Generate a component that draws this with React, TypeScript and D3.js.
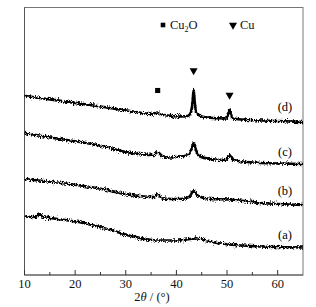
import * as d3 from 'd3';

// 2θ (deg) vs intensity (a.u.)
const curveA: [number, number][] = [
  [10, 58.5], [12.2, 58], [12.9, 61.5], [13.6, 58], [15, 57], [21.6, 52], [27, 45],
  [31.5, 38.5], [36.2, 34.5], [40.1, 34.5], [44, 36.5], [48, 32], [54.6, 29], [65, 27.5],
];
const curveB: [number, number][] = [
  [10, 96], [15.7, 93], [24.3, 87], [31, 80], [35.5, 78], [36.3, 81], [37.2, 76.5],
  [40.8, 76], [42.5, 78], [43.4, 84], [44.3, 79], [46.7, 76], [50.5, 75.5], [56.6, 72], [65, 70],
];
const curveC: [number, number][] = [
  [10, 142], [15.7, 137], [24.3, 130], [31, 122], [35.5, 120], [36.3, 123], [37.2, 119],
  [38.8, 117.5], [40.8, 118.5], [42.3, 120], [43.0, 126], [43.4, 132], [43.8, 126], [44.5, 119],
  [46.7, 116], [49.8, 115], [50.5, 120], [51.2, 115], [56.6, 112], [65, 111],
];
const curveD: [number, number][] = [
  [10, 179], [13, 177], [18, 173.5], [25, 168.5], [31.5, 163.5], [35, 161], [36.3, 162.5],
  [37.5, 160], [40.8, 158.5], [42.2, 159], [42.9, 163], [43.2, 174], [43.4, 185], [43.6, 174],
  [43.9, 163], [45, 158.5], [46, 157.5], [49.9, 156.5], [50.5, 165], [51.1, 156.5],
  [54.6, 155], [60, 154], [65, 153],
];
const series = [curveA, curveB, curveC, curveD];
const seriesLabels = ['(a)', '(b)', '(c)', '(d)'];
const labelY = [40, 84, 123, 168];

// phase markers
const cu2oPeaks: [number, number][] = [[36.3, 184.5]];
const cuPeaks: [number, number][] = [[43.4, 204.5], [50.5, 180]];

const xTicks = [10, 20, 30, 40, 50, 60];
const xMinor = [15, 25, 35, 45, 55];

export default function App() {
  const W = 316, H = 307;
  const m = { left: 24.5, right: 303, top: 7.5, bottom: 275 };
  const x = d3.scaleLinear().domain([10, 65]).range([m.left, m.right]);
  const y = d3.scaleLinear().domain([0, 267.5]).range([m.bottom, m.top]);
  const line = d3.line<[number, number]>().x(d => x(d[0])).y(d => y(d[1])).curve(d3.curveMonotoneX);
  const sq = d3.symbol().type(d3.symbolSquare).size(26)();
  const tri = d3.symbol().type(d3.symbolTriangle).size(28)();
  const font = 'Liberation Serif, Times New Roman, serif';

  return (
    <svg width={W} height={H} style={{ position: 'absolute', left: 0, top: 0, background: '#fff' }}
      fontFamily={font}>
      <defs>
        {/* jagged detector noise: vertical-only displacement */}
        <filter id="noisy" filterUnits="userSpaceOnUse" x="0" y="0" width={W} height={H}>
          <feTurbulence type="fractalNoise" baseFrequency="1.6 0.6" numOctaves="2" seed="5" result="n" />
          <feColorMatrix in="n" type="matrix"
            values="0 0 0 0 0.5  0 1 0 0 0  0 0 1 0 0  0 0 0 0 1" result="nv" />
          <feDisplacementMap in="SourceGraphic" in2="nv" scale="6" xChannelSelector="R" yChannelSelector="G" />
        </filter>
      </defs>

      <rect x={m.left} y={m.top} width={m.right - m.left} height={m.bottom - m.top}
        fill="none" stroke="#777" strokeWidth={1} />
      <line x1={m.left} x2={m.left} y1={m.top} y2={m.bottom} stroke="#555" />
      <line x1={m.left} x2={m.right} y1={m.bottom} y2={m.bottom} stroke="#555" />

      {xTicks.map(t => (
        <g key={t}>
          <line x1={x(t)} x2={x(t)} y1={m.bottom} y2={m.bottom - 5} stroke="#333" />
          <text x={x(t)} y={288} fontSize={12.5} textAnchor="middle" fill="#111">{t}</text>
        </g>
      ))}
      {xMinor.map(t => (
        <line key={t} x1={x(t)} x2={x(t)} y1={m.bottom} y2={m.bottom - 3} stroke="#333" />
      ))}
      <text x={152} y={301} fontSize={12.5} textAnchor="middle" fill="#111">
        2<tspan fontStyle="italic">θ</tspan> / (°)
      </text>

      <g filter="url(#noisy)">
        {series.map((s, i) => (
          <path key={i} d={line(s) ?? ''} fill="none" stroke="#000" strokeWidth={2.6} />
        ))}
      </g>

      {seriesLabels.map((l, i) => (
        <text key={l} x={285} y={y(labelY[i]) + 4} fontSize={12.5} textAnchor="middle" fill="#000">{l}</text>
      ))}

      {cu2oPeaks.map((p, i) => (
        <path key={'s' + i} d={sq ?? ''} transform={`translate(${x(p[0])},${y(p[1])})`} fill="#000" />
      ))}
      {cuPeaks.map((p, i) => (
        <path key={'t' + i} d={tri ?? ''} transform={`translate(${x(p[0])},${y(p[1])}) rotate(180)`} fill="#000" />
      ))}

      <path d={sq ?? ''} transform="translate(163,25) scale(0.9)" fill="#000" />
      <text x={170} y={29} fontSize={12.5} fill="#111">
        Cu<tspan fontSize={8} dy={3}>2</tspan><tspan dy={-3}>O</tspan>
      </text>
      <path d={tri ?? ''} transform="translate(233,25) rotate(180)" fill="#000" />
      <text x={240} y={29} fontSize={12.5} fill="#111">Cu</text>
    </svg>
  );
}
